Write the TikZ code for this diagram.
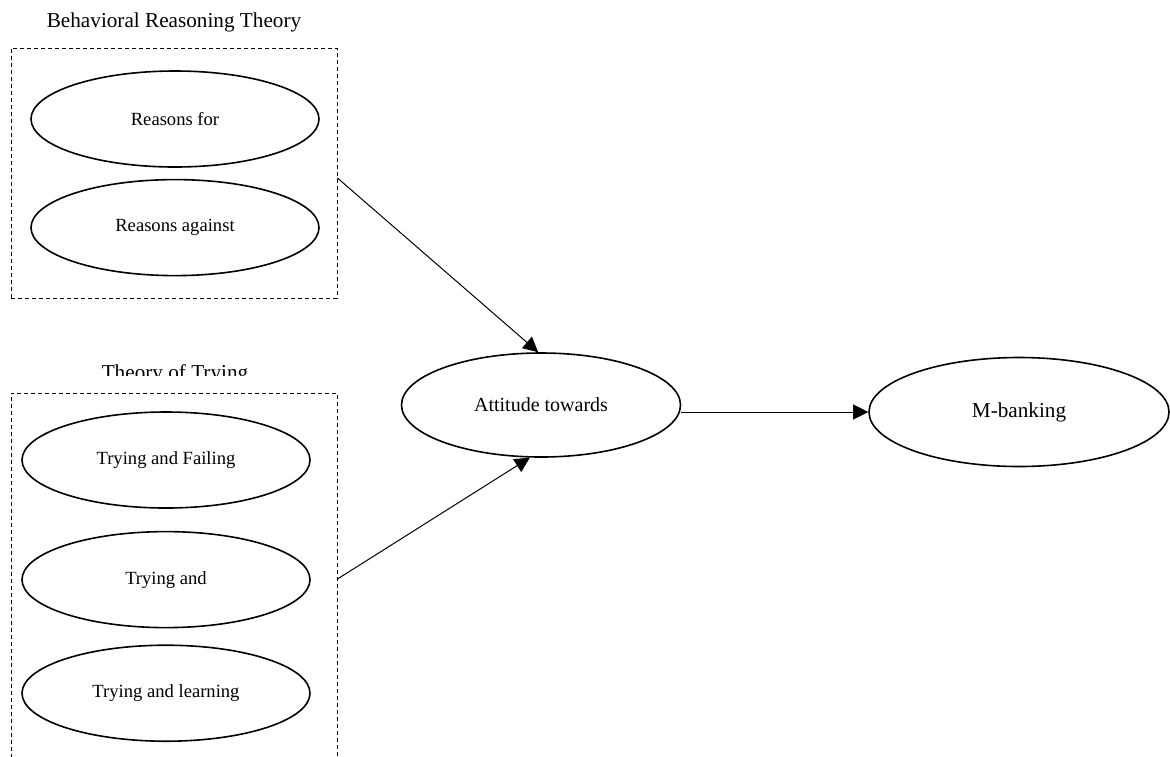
\documentclass[tikz,border=0pt]{standalone}
\usepackage{fontspec}
\setmainfont{Liberation Serif}
\usetikzlibrary{arrows.meta}
\usetikzlibrary{positioning}
\usetikzlibrary{shapes.geometric}

\begin{document}
\begin{tikzpicture}
	[x=0.5pt, y=-0.5pt,
	construct/.style={ellipse, draw, line width=0.8pt, inner sep=0pt, minimum width=144pt, minimum height=48pt, font=\fontsize{9.3}{11}\selectfont},
	theorybox/.style={draw, dash pattern=on 2pt off 1.5pt, line width=0.45pt, inner sep=0pt},
	heading/.style={anchor=base, inner sep=0pt, font=\fontsize{10.6}{13}\selectfont},
	link/.style={line width=0.5pt, -{Triangle[length=7.5pt, width=7.5pt]}}]
	\useasboundingbox (0,0) rectangle (1170,756);
	% Behavioral Reasoning Theory
	\node[heading] (brtlabel) at (174,27) {Behavioral Reasoning Theory};
	\node[theorybox, minimum width=163pt, minimum height=125pt] (brt) at (174,173) {};
	\node[construct] (rfor) at (175,119) {Reasons for};
	\node[construct, below=5.5pt of rfor] (ragainst) {Reasons against};
	% Theory of Trying
	\begin{scope}
		\clip (0,300) rectangle (400,375);
		\node[heading] (ttlabel) at (175,379) {Theory of Trying};
	\end{scope}
	\node[theorybox, minimum width=163pt, minimum height=193.5pt] (tt) at (174,586.5) {};
	\node[construct] (tfail) at (166,460) {Trying and Failing};
	\node[construct, below=11pt of tfail] (tand) {Trying and};
	\node[construct, below=8pt of tand] (tlearn) {Trying and learning};
	% attitude and M-banking
	\node[construct, minimum width=139.5pt, minimum height=52pt, font=\fontsize{10}{12}\selectfont] (att) at (541,405) {Attitude towards};
	\node[construct, minimum width=150pt, minimum height=54.5pt, font=\fontsize{10.6}{13}\selectfont] (mb) at (1019,412) {M-banking};
	\draw[link] ([yshift=-2.5pt]brt.east) -- (att.93);
	\draw[link] ([yshift=3.75pt]tt.east) -- (att.258);
	\draw[link] (att.east |- mb.west) -- (mb.west);
\end{tikzpicture}
\end{document}
